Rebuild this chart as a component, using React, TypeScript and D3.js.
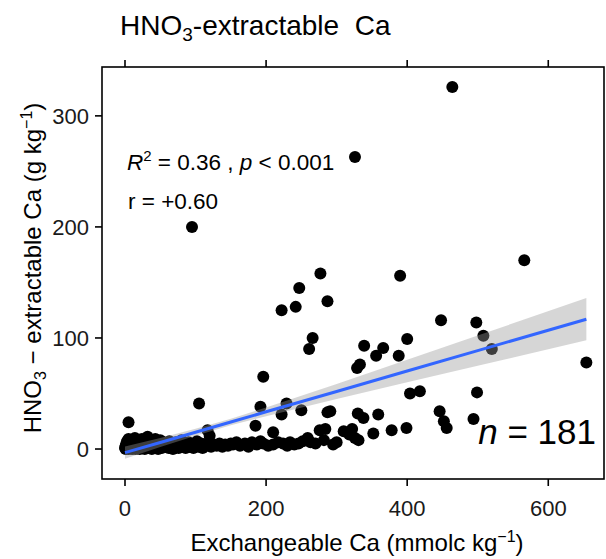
import React from "react";
import * as d3 from "d3";

// [exchangeable Ca, HNO3-extractable Ca]
const highPts: [number, number][] = [
  [464, 326], [326, 263], [95, 200], [566, 170], [390, 156], [277, 158], [247, 145],
  [287, 133], [242, 128], [222, 125], [266, 100], [261, 90], [196, 65], [105, 41], [5, 24],
];
const midPts: [number, number][] = [
  [448, 116], [498, 114], [508, 102], [520, 90], [400, 99], [339, 93], [366, 91], [356, 84],
  [388, 84], [333, 76], [329, 73], [654, 78], [404, 50], [418, 52], [499, 51],
];
const lowRightPts: [number, number][] = [
  [291, 34], [330, 32], [338, 28], [359, 31], [446, 34], [452, 25], [456, 19], [494, 27],
  [310, 16], [318, 13], [322, 18], [326, 10], [331, 8], [352, 14], [378, 17], [399, 19],
];
const lowLeftPts: [number, number][] = [
  [192, 38], [229, 41], [222, 31], [250, 35], [287, 33], [185, 21], [210, 15], [117, 17],
  [120, 12], [276, 17], [284, 18], [282, 8], [259, 10],
];
const clusterPts: [number, number][] = [
  [0, 1], [1, 3], [1, 0], [2, 5], [2, 2], [3, 1], [3, 7], [4, 3], [5, 0], [5, 9], [6, 2], [7, 4],
  [8, 1], [8, 6], [9, 3], [10, 0], [10, 8], [11, 2], [12, 5], [13, 1], [14, 3], [14, 10], [15, 0],
  [16, 6], [17, 2], [18, 4], [19, 1], [20, 7], [20, 3], [21, 0],
  [22, 5], [23, 2], [24, 9], [25, 1], [26, 4], [27, 7], [28, 0], [29, 3], [30, 6], [31, 2],
  [32, 11], [33, 4], [34, 1], [35, 8], [36, 3], [37, 5], [38, 0], [39, 2], [40, 7], [41, 4],
  [42, 1], [43, 9], [44, 3], [45, 6], [46, 2], [47, 0], [48, 5], [49, 3], [50, 8], [52, 1],
  [53, 4], [55, 6], [56, 2], [58, 3], [60, 5],
  [62, 1], [63, 7], [65, 3], [67, 5], [68, 0], [70, 2], [72, 6], [74, 3], [76, 1], [78, 4],
  [80, 8], [82, 2], [84, 5], [86, 1], [88, 3], [90, 6], [92, 2], [95, 4], [97, 1], [100, 3],
  [102, 7], [105, 2], [108, 5], [110, 1], [113, 4], [116, 3], [119, 6], [122, 2], [126, 4],
  [130, 3], [134, 5], [138, 2], [142, 4], [146, 3], [150, 5],
  [153, 4], [158, 6], [163, 3], [170, 5], [175, 2], [180, 6], [187, 4], [192, 7], [196, 5],
  [203, 3], [210, 4], [217, 6], [224, 5], [230, 3], [234, 6], [240, 4], [246, 5], [252, 7],
  [263, 6], [270, 5], [295, 4], [300, 6],
];

// linear fit and 95% band
const fitX = [0, 50, 100, 150, 200, 300, 400, 500, 654];
const fitMid = [-3.3, 5.9, 15.1, 24.3, 33.5, 51.8, 70.2, 88.6, 116.9];
const fitUpper = [2.2, 10.0, 18.2, 27.3, 37.4, 58.6, 80.3, 102.2, 135.9];
const fitLower = [-8.8, 1.8, 12.0, 21.3, 29.6, 45.0, 60.1, 75.0, 97.9];

const xTicks = [0, 200, 400, 600];
const yTicks = [0, 100, 200, 300];

const W = 606;
const H = 559;
const P = { left: 102, top: 67, right: 604, bottom: 479 };
const FONT = "'Liberation Sans', Arial, sans-serif";

export default function App() {
  const x = d3.scaleLinear().domain([-32.6, 679]).range([P.left, P.right]);
  const y = d3.scaleLinear().domain([-27, 344]).range([P.bottom, P.top]);

  const points = [...highPts, ...midPts, ...lowRightPts, ...lowLeftPts, ...clusterPts];

  const band = d3
    .area<number>()
    .x((i) => x(fitX[i]))
    .y0((i) => y(fitLower[i]))
    .y1((i) => y(fitUpper[i]));
  const line = d3
    .line<number>()
    .x((i) => x(fitX[i]))
    .y((i) => y(fitMid[i]));
  const idx = fitX.map((_, i) => i);

  return (
    <svg
      width={W}
      height={H}
      style={{ position: "absolute", left: 0, top: 0, background: "#fff" }}
      fontFamily={FONT}
    >
      <text x={120} y={35} fontSize={28} fill="#000" style={{ whiteSpace: "pre" }}>
        HNO<tspan fontSize={19} dy={6}>3</tspan>
        <tspan dy={-6}>-extractable  Ca</tspan>
      </text>

      <g>
        {points.map((d, i) => (
          <circle key={i} cx={x(d[0])} cy={y(d[1])} r={6} fill="#000" />
        ))}
      </g>
      <path d={band(idx) ?? ""} fill="#999999" fillOpacity={0.4} />
      <path d={line(idx) ?? ""} fill="none" stroke="#3366FF" strokeWidth={3} />

      <rect
        x={P.left}
        y={P.top}
        width={P.right - P.left}
        height={P.bottom - P.top}
        fill="none"
        stroke="#000"
        strokeWidth={1.6}
      />

      {xTicks.map((t) => (
        <g key={"x" + t}>
          <line x1={x(t)} x2={x(t)} y1={P.bottom} y2={P.bottom + 7} stroke="#000" strokeWidth={1.6} />
          <line x1={x(t)} x2={x(t)} y1={P.top} y2={P.top - 7} stroke="#000" strokeWidth={1.6} />
          <text x={x(t)} y={516} fontSize={22} textAnchor="middle" fill="#1a1a1a">
            {t}
          </text>
        </g>
      ))}
      {yTicks.map((t) => (
        <g key={"y" + t}>
          <line x1={P.left} x2={P.left - 7} y1={y(t)} y2={y(t)} stroke="#000" strokeWidth={1.6} />
          <text x={89} y={y(t) + 8} fontSize={22} textAnchor="end" fill="#1a1a1a">
            {t}
          </text>
        </g>
      ))}

      <text x={(P.left + P.right) / 2 + 4} y={551} fontSize={24} textAnchor="middle" fill="#000">
        Exchangeable Ca (mmolc kg<tspan fontSize={16} dy={-9}>−1</tspan>
        <tspan dy={9}>)</tspan>
      </text>

      <text
        transform={`translate(41,268) rotate(-90)`}
        fontSize={24}
        textAnchor="middle"
        fill="#000"
      >
        HNO<tspan fontSize={16} dy={5}>3</tspan>
        <tspan dy={-5}> − extractable Ca (g kg</tspan>
        <tspan fontSize={16} dy={-9}>−1</tspan>
        <tspan dy={9}>)</tspan>
      </text>

      <text x={127} y={170} fontSize={22.5} fill="#000">
        <tspan fontStyle="italic">R</tspan>
        <tspan fontSize={15} dy={-9}>2</tspan>
        <tspan dy={9}> = 0.36 , </tspan>
        <tspan fontStyle="italic">p</tspan>
        <tspan> &lt; 0.001</tspan>
      </text>
      <text x={128} y={209} fontSize={22.5} fill="#000">
        r = +0.60
      </text>
      <text x={596} y={444} fontSize={35} textAnchor="end" fill="#000">
        <tspan fontStyle="italic">n</tspan> = 181
      </text>
    </svg>
  );
}
